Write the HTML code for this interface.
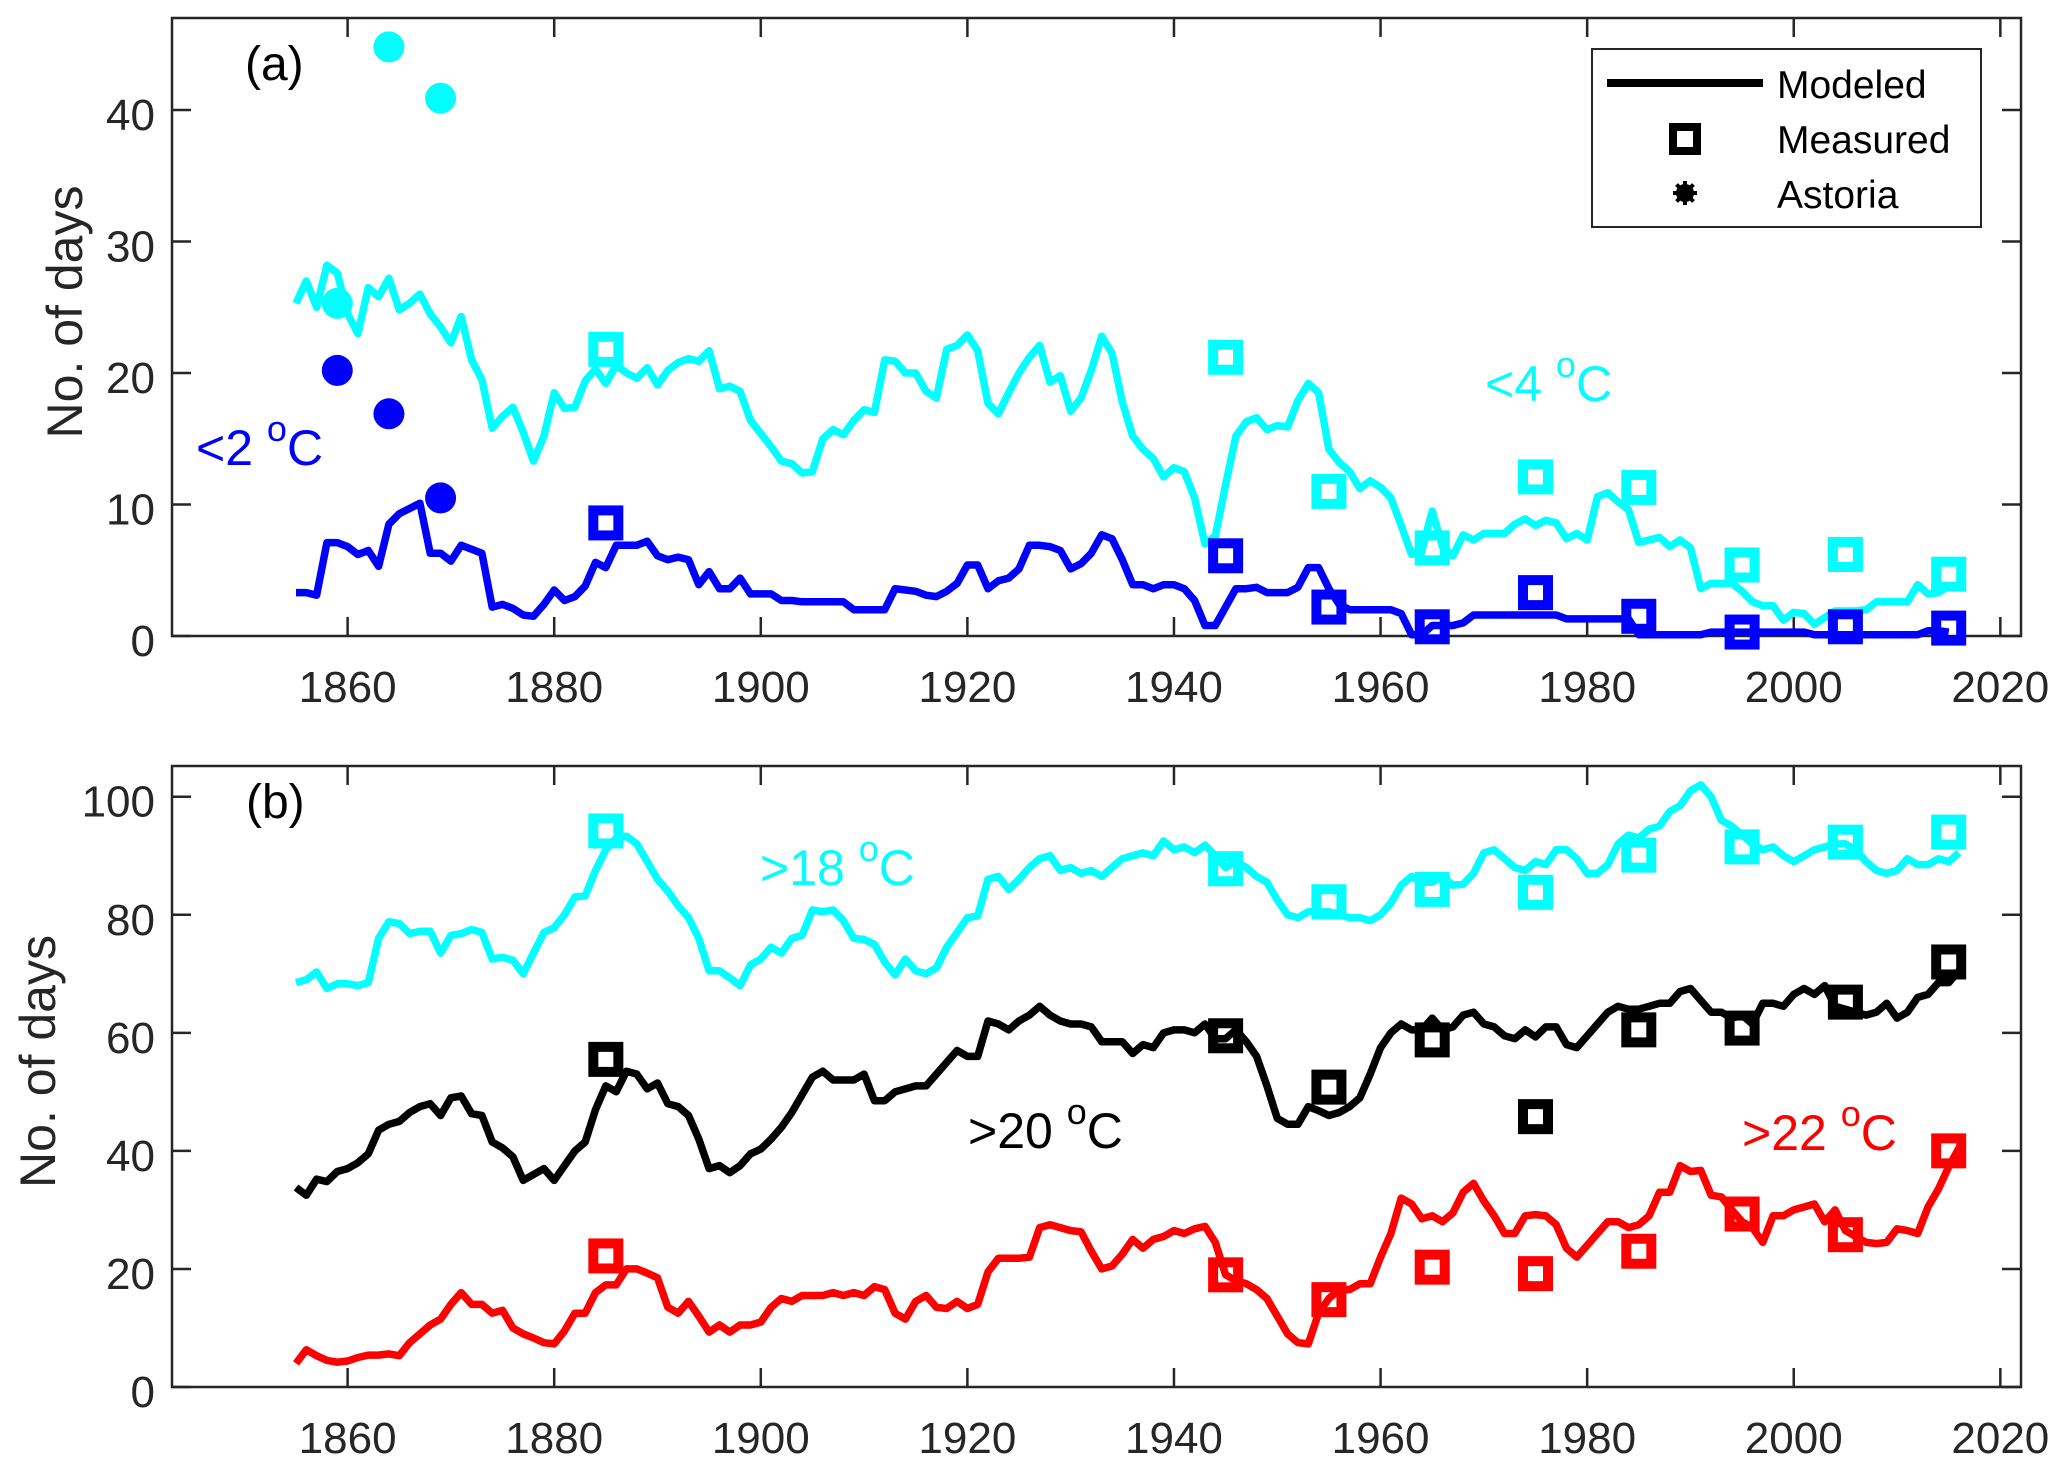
<!DOCTYPE html>
<html><head><meta charset="utf-8">
<style>
html,body{margin:0;padding:0;background:#fff;}
svg{display:block;font-family:"Liberation Sans",Arial,sans-serif;}
</style></head>
<body>
<svg id="chart" width="2067" height="1471" viewBox="0 0 2067 1471" xmlns="http://www.w3.org/2000/svg"></svg>
<script>
// ---------- data ----------
const yearsA = [];
for (let y = 1855; y <= 2015; y++) yearsA.push(y);
const below4 = [25.3,27,25,28.2,27.6,24.5,23,26.5,25.8,27.2,24.8,25.3,26,24.5,23.5,22.3,24.3,21,19.5,15.8,16.7,17.4,15.5,13.3,15.2,18.5,17.3,17.4,19.4,20.3,19.2,20.6,20,19.6,20.4,19.1,20.2,20.8,21.1,20.9,21.7,18.8,19,18.6,16.4,15.4,14.4,13.3,13.1,12.4,12.5,15,15.7,15.3,16.4,17.2,17,21,20.9,20,20,18.6,18.1,21.8,22.1,22.9,21.7,17.7,16.9,18.5,20,21.2,22.1,19.3,19.8,17.1,18.1,20.2,22.8,21.5,17.8,15.2,14.2,13.5,12.1,12.8,12.5,10.5,7,7.6,11.5,15.2,16.3,16.6,15.7,16,15.9,17.9,19.2,18.5,14.2,13.2,12.5,11.2,11.8,11.3,10.5,8.4,6.2,6.5,9.5,6.8,6.1,7.7,7.3,7.8,7.8,7.8,8.5,8.9,8.4,8.8,8.6,7.4,7.8,7.3,10.6,10.9,10.2,9.6,7.1,7.3,7.5,6.8,7.3,6.7,3.6,4,4,4,3.4,2.6,2.3,2.3,1.2,1.8,1.7,0.9,1.4,1.9,1.9,1.9,2,2.6,2.6,2.6,2.6,3.9,3.2,3.3,3.8];
const below2 = [3.3,3.3,3.1,7.1,7.1,6.8,6.2,6.5,5.3,8.5,9.3,9.7,10.1,6.3,6.3,5.7,6.9,6.6,6.3,2.2,2.4,2.1,1.6,1.5,2.4,3.5,2.7,3,3.8,5.6,5.2,6.9,6.9,6.9,7.2,6.1,5.8,6,5.8,3.9,4.9,3.6,3.6,4.4,3.2,3.2,3.2,2.7,2.7,2.6,2.6,2.6,2.6,2.6,2,2,2,2,3.6,3.5,3.4,3.1,3,3.4,4,5.4,5.4,3.6,4.2,4.4,5.1,6.9,6.9,6.8,6.5,5.1,5.5,6.3,7.7,7.4,5.8,3.9,3.9,3.6,3.9,3.9,3.6,2.7,0.8,0.8,2.2,3.6,3.6,3.7,3.3,3.3,3.3,3.7,5.2,5.2,3.6,2.4,2,2,2,2,2,1.7,0.1,0.1,0.8,0.8,0.8,1,1.6,1.6,1.6,1.6,1.6,1.6,1.6,1.6,1.6,1.3,1.3,1.3,1.3,1.3,1.3,1.3,0.1,0.1,0.1,0.1,0.1,0.1,0.1,0.3,0.3,0.3,0.3,0.3,0.3,0.3,0.3,0.3,0.3,0.1,0.1,0.1,0.1,0.1,0.1,0.1,0.1,0.1,0.1,0.1,0.4,0.4,0.3];
const measYears = [1885,1945,1955,1965,1975,1985,1995,2005,2015];
const meas4 = [21.8,21.2,11,6.7,12.1,11.3,5.4,6.2,4.7];
const meas2 = [8.6,6.1,2.2,0.7,3.3,1.5,0.3,0.7,0.6];
const astoriaYears = [1859,1864,1869];
const astoria4 = [25.3,44.8,40.9];
const astoria2 = [20.2,16.9,10.5];

const yearsB = [];
for (let y = 1855; y <= 2016; y++) yearsB.push(y);
const above18 = [68.5,69,70.3,67.5,68.3,68.3,68,68.5,76,78.8,78.5,76.8,77.2,77.2,73.5,76.5,76.8,77.5,77,72.5,72.8,72.3,70,73.5,77,77.8,80,83,83.2,87.5,91,93,93.3,92,89,86,84,81.5,79.5,76,70.5,70.5,69.3,68,71.5,72.5,74.5,73.5,76,76.5,80.8,80.5,80.8,79,76,75.8,75,72,69.8,72.5,70.5,70,71,74.5,77,79.5,79.8,86,86.5,84.3,86,88,89.5,90,87.5,88,87,87.5,86.5,88,89.5,90,90.5,90,92.5,91,91.5,90.5,91.8,90,88,89,88,86.5,85.5,82.5,80,79.5,80.5,80.5,80.5,80,79.5,79.5,79,80,82,85,86.5,85.5,85.5,86.5,85,85.2,87,90.5,91,89.5,88,87.5,89,88.5,91,91,89.5,87,87,88.5,92,93.5,93,94.5,95,97.5,98.5,101,102,100,96,95,93.5,92,91,91.5,90,89,90,91,91.5,92,92,91,89,87.5,87,87.5,89.5,88.5,88.5,89.5,89,90.5];
const above20 = [33.8,32.5,35.2,34.8,36.5,37,38,39.5,43.5,44.5,45,46.5,47.5,48,46,49,49.3,46.3,46,41.5,40.5,39,35,36,37,35,37.5,40,41.5,47,51,50,53.5,53,50.5,51.5,48,47.5,46,42,37,37.5,36.3,37.5,39.5,40.3,42,44,46.5,49.5,52.5,53.5,52,52,52,53,48.5,48.5,50,50.5,51,51,53,55,57,56,56,62,61.5,60.5,62,63,64.5,63,62,61.5,61.5,61,58.5,58.5,58.5,56.5,58,57.5,60,60.5,60.5,60,61.5,59,59,60.5,58.5,56,51,45.5,44.5,44.5,47.5,46.8,46,46.5,47.5,49,53,57.5,60,61.5,60.5,60.5,62.5,60.5,61,63,63.5,61.5,61,59.5,59,60.5,59.3,61,61,58,57.5,59.5,61.5,63.5,64.5,64,64,64.5,65,65,67,67.5,65.5,63.5,63.5,62.5,63,61.5,65,65,64.5,66.5,67.5,66.5,68,64.5,64,63.5,63,63.5,65,62.5,63.5,66,66.5,68.5,68.5,70.5];
const above22 = [4,6.3,5.3,4.5,4.2,4.4,5,5.4,5.4,5.6,5.3,7.5,9,10.5,11.5,14,16,14,14,12.5,13,10,9,8.3,7.5,7.3,9.5,12.5,12.5,16,17.3,17.3,20,20,19.3,18.5,13.5,12.5,14.5,12,9.3,10.5,9.3,10.5,10.5,11,13.5,15,14.5,15.5,15.5,15.5,16,15.5,16,15.5,17,16.5,12.5,11.5,14.5,15.5,13.5,13.3,14.5,13.3,14,19.5,21.8,21.8,21.8,22,27,27.5,27,26.5,26.3,23,20,20.5,22.5,25,23.5,25,25.5,26.5,26,26.8,27.2,24.5,19,18,17.5,16.5,15,12,9,7.5,7.3,12.5,15,16.5,16.5,17.5,17.5,22,26,32,31,28.5,29,28,29.5,33,34.5,31.5,29,26,26,29,29.2,29,27.5,23.5,22,24,26,28,28,27,27.5,29,33,33,37.5,36.5,36.7,32.5,32.2,30,28,27,24.5,29,29,30,30.5,31,28,30,26.5,25.5,24.5,24.3,24.5,26.8,26.5,26,30.5,33.5,37.3,40.5];
const meas18 = [94.2,87.8,82.2,84.3,83.8,90.1,91.5,92.3,94];
const meas20 = [55.5,59.5,50.8,58.8,45.8,60.5,60.8,65.2,72];
const meas22 = [22.2,19,14.8,20.3,19.2,23,29.3,25.8,40];
const xTicks = [1860,1880,1900,1920,1940,1960,1980,2000,2020];
const yTicksA = [0,10,20,30,40];
const yTicksB = [0,20,40,60,80,100];

// ---------- layout ----------
const NS = "http://www.w3.org/2000/svg";
const svg = document.getElementById('chart');
const L = 172, R = 2021, X0 = 1843.0, X1 = 2022.0;
const xs = y => L + (y - X0) / (X1 - X0) * (R - L);
const panelA = {top: 18, bottom: 636, max: 47.0};
const panelB = {top: 766, bottom: 1387, max: 105.2};
const ysA = v => panelA.bottom - v / panelA.max * (panelA.bottom - panelA.top);
const ysB = v => panelB.bottom - v / panelB.max * (panelB.bottom - panelB.top);
const CY = '#00ffff', BL = '#0000ff', BK = '#000000', RD = '#ff0000', AX = '#262626';

function el(tag, attrs, parent) {
  const e = document.createElementNS(NS, tag);
  for (const k in attrs) e.setAttribute(k, attrs[k]);
  (parent || svg).appendChild(e);
  return e;
}
function group(name) {
  const g = el('g', {});
  
  
  return g;
}
function line(name, xsArr, vals, ys, color) {
  const pts = xsArr.map((x, i) => xs(x).toFixed(1) + ',' + ys(vals[i]).toFixed(1)).join(' ');
  const p = el('polyline', {points: pts, fill: 'none', stroke: color, 'stroke-width': 7.5, 'stroke-linejoin': 'round'});
  
  
}
function squares(name, xsArr, vals, ys, color) {
  const g = group(name);
  xsArr.forEach((x, i) => {
    const r = el('rect', {x: xs(x) - 12.5, y: ys(vals[i]) - 12.5, width: 25, height: 25, fill: 'none', stroke: color, 'stroke-width': 10}, g);
    
    
  });
}
function dots(name, xsArr, vals, ys, color) {
  const g = group(name);
  xsArr.forEach((x, i) => {
    const c = el('circle', {cx: xs(x), cy: ys(vals[i]), r: 15.5, fill: color}, g);
    
    
  });
}
function text(name, x, y, str, attrs, parent) {
  const t = el('text', Object.assign({x: x, y: y, fill: AX, 'font-size': 44}, attrs || {}), parent);
  t.textContent = str;
  
  
  return t;
}
function label(name, x, y, base, color) {
  const t = el('text', {x: x, y: y, fill: color, 'font-size': 50});
  
  
  const s1 = el('tspan', {}, t); s1.textContent = base + ' ';
  const s2 = el('tspan', {dy: -24, 'font-size': 36}, t); s2.textContent = 'o';
  const s3 = el('tspan', {dy: 24}, t); s3.textContent = 'C';
}
function axes(panel, ys, ticks, prefix, titleX) {
  const g = group(prefix + '-axes');
  const b = el('rect', {x: L, y: panel.top, width: R - L, height: panel.bottom - panel.top, fill: 'none', stroke: AX, 'stroke-width': 2.5}, g);
  
  
  const tk = 19;
  xTicks.forEach(t => {
    const x = xs(t);
    el('line', {x1: x, x2: x, y1: panel.bottom, y2: panel.bottom - tk, stroke: AX, 'stroke-width': 2.5}, g);
    el('line', {x1: x, x2: x, y1: panel.top, y2: panel.top + tk, stroke: AX, 'stroke-width': 2.5}, g);
    text(prefix + '-x-tick-label', x, panel.bottom + 66, String(t), {'text-anchor': 'middle'}, g);
  });
  ticks.forEach(t => {
    const y = ys(t);
    el('line', {x1: L, x2: L + tk, y1: y, y2: y, stroke: AX, 'stroke-width': 2.5}, g);
    el('line', {x1: R, x2: R - tk, y1: y, y2: y, stroke: AX, 'stroke-width': 2.5}, g);
    text(prefix + '-y-tick-label', 155, y + 20, String(t), {'text-anchor': 'end'}, g);
  });
  text(prefix + '-y-axis-title', 0, 0, 'No. of days', {'text-anchor': 'middle', 'font-size': 50,
    transform: 'translate(' + titleX + ',' + ((panel.top + panel.bottom) / 2 - 15) + ') rotate(-90)'});
}

// ---------- panel (a) ----------
axes(panelA, ysA, yTicksA, 'a', 82);
line('below4-modeled-line', yearsA, below4, ysA, CY);
line('below2-modeled-line', yearsA, below2, ysA, BL);
squares('below4-measured', measYears, meas4, ysA, CY);
squares('below2-measured', measYears, meas2, ysA, BL);
dots('below4-astoria', astoriaYears, astoria4, ysA, CY);
dots('below2-astoria', astoriaYears, astoria2, ysA, BL);
text('panel-a-label', 245, 80, '(a)', {fill: '#000', 'font-size': 48});
label('below2-label', 196, 465, '<2', BL);
label('below4-label', 1485, 401, '<4', CY);

// legend
const lg = group('legend');
const lb = el('rect', {x: 1592, y: 49, width: 389, height: 178, fill: '#fff', stroke: AX, 'stroke-width': 2}, lg);


el('line', {x1: 1607, x2: 1763, y1: 83, y2: 83, stroke: '#000', 'stroke-width': 8}, lg);
el('rect', {x: 1673, y: 127, width: 24, height: 24, fill: 'none', stroke: '#000', 'stroke-width': 8}, lg);
const star = el('g', {}, lg);


el('circle', {cx: 1685, cy: 193, r: 9, fill: '#000'}, star);
[0, 45, 90, 135].forEach(a => {
  el('line', {x1: 1685 - 12, x2: 1685 + 12, y1: 193, y2: 193, stroke: '#000', 'stroke-width': 4, transform: 'rotate(' + a + ' 1685 193)'}, star);
});
text('legend-modeled', 1777, 98, 'Modeled', {fill: '#000', 'font-size': 39}, lg);
text('legend-measured', 1777, 153, 'Measured', {fill: '#000', 'font-size': 39}, lg);
text('legend-astoria', 1777, 208, 'Astoria', {fill: '#000', 'font-size': 39}, lg);

// ---------- panel (b) ----------
axes(panelB, ysB, yTicksB, 'b', 55);
line('above18-modeled-line', yearsB, above18, ysB, CY);
line('above20-modeled-line', yearsB, above20, ysB, BK);
line('above22-modeled-line', yearsB, above22, ysB, RD);
squares('above18-measured', measYears, meas18, ysB, CY);
squares('above20-measured', measYears, meas20, ysB, BK);
squares('above22-measured', measYears, meas22, ysB, RD);
text('panel-b-label', 246, 818, '(b)', {fill: '#000', 'font-size': 48});
label('above18-label', 760, 885, '>18', CY);
label('above20-label', 968, 1148, '>20', BK);
label('above22-label', 1742, 1150, '>22', RD);
</script>
</body></html>
